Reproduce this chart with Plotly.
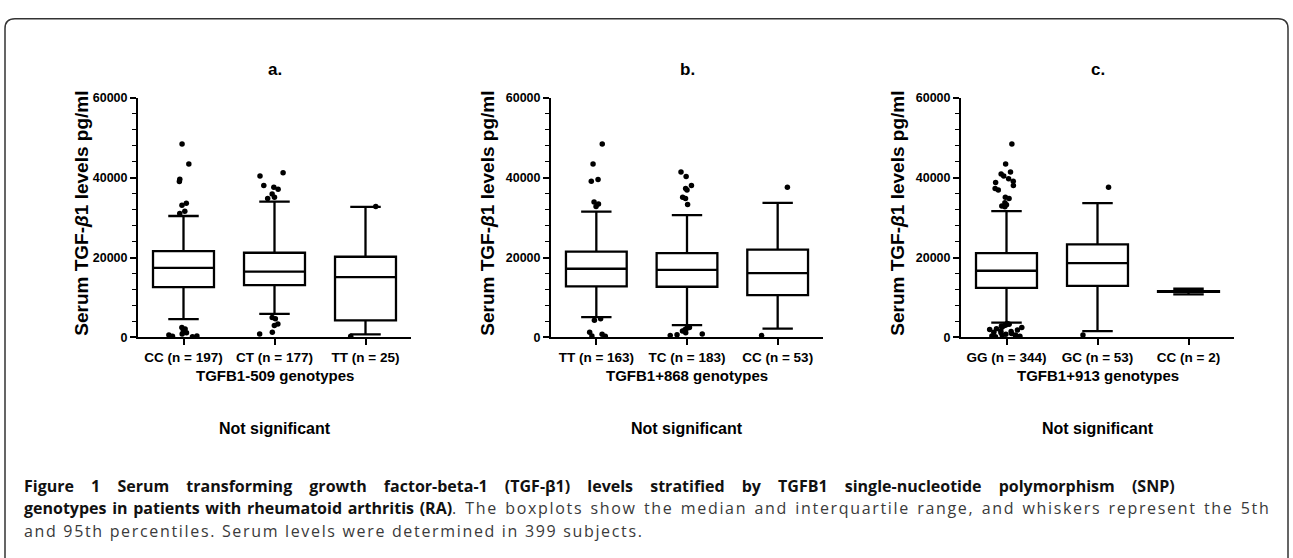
import plotly.graph_objects as go

W, H = 1293, 558

# ---------------- data ----------------
panel_titles = ["a.", "b.", "c."]
genotype_titles = ["TGFB1-509 genotypes", "TGFB1+868 genotypes", "TGFB1+913 genotypes"]
significance = ["Not significant", "Not significant", "Not significant"]

cats_a = ["CC (n = 197)", "CT (n = 177)", "TT (n = 25)"]
q1_a = [12600, 13100, 4300]
med_a = [17400, 16500, 15100]
q3_a = [21600, 21200, 20200]
lo_a = [4600, 5900, 800]
hi_a = [30400, 34000, 32700]
out_a_1 = [48400, 43400, 39600, 39000, 33600, 33100, 31600, 31000,
           2500, 2100, 1700, 1200, 900, 600, 400, 200, 300]
out_a_2 = [41200, 40400, 38000, 37600, 37100, 35900, 35100, 34800,
           5000, 4700, 3400, 3000, 1300, 900]
out_a_3 = [32800, 300]

cats_b = ["TT (n = 163)", "TC (n = 183)", "CC (n = 53)"]
q1_b = [12800, 12700, 10600]
med_b = [17200, 16900, 16100]
q3_b = [21500, 21100, 22000]
lo_b = [5100, 3100, 2200]
hi_b = [31500, 30600, 33700]
out_b_1 = [48400, 43400, 39500, 39100, 33900, 33400, 32800,
           4700, 4300, 1300, 800, 400, 300]
out_b_2 = [41400, 40300, 38000, 37300, 36900, 35100, 34800, 33300,
           2500, 2300, 2000, 1600, 1200, 900, 700, 500]
out_b_3 = [37600, 500]

cats_c = ["GG (n = 344)", "GC (n = 53)", "CC (n = 2)"]
q1_c = [12400, 12900, 11400]
med_c = [16700, 18600, 11500]
q3_c = [21100, 23300, 11600]
lo_c = [3700, 1600, 10800]
hi_c = [31600, 33600, 12200]
out_c_1 = [48400, 43400, 41400, 40900, 40400, 39700, 39100, 38800, 38000, 37300,
           36900, 35100, 34800, 33700, 33200, 32900, 32700,
           3500, 3300, 3200, 3000, 2900, 2600, 2500, 2200, 2000, 1900, 1700,
           1500, 1300, 1200, 1000, 800, 600, 500, 400, 300, 200, 100]
out_c_2 = [37600, 600]
out_c_3 = []

y_title = "Serum TGF-<i>β</i>1 levels pg/ml"

caption_1_bold = ("Figure 1 Serum transforming growth factor-beta-1 (TGF-β1) levels stratified "
                  "by TGFB1 single-nucleotide polymorphism (SNP)")
caption_2_bold = "genotypes in patients with rheumatoid arthritis (RA)"
caption_2_rest = (". The boxplots show the median and interquartile range, "
                  "and whiskers represent the 5th")
caption_3 = "and 95th percentiles. Serum levels were determined in 399 subjects."

panels = [
    (cats_a, q1_a, med_a, q3_a, lo_a, hi_a, [out_a_1, out_a_2, out_a_3]),
    (cats_b, q1_b, med_b, q3_b, lo_b, hi_b, [out_b_1, out_b_2, out_b_3]),
    (cats_c, q1_c, med_c, q3_c, lo_c, hi_c, [out_c_1, out_c_2, out_c_3]),
]

# ---------------- layout helpers ----------------
def px(x):
    return x / W

def py(y):
    return 1 - y / H

SANS = "Liberation Sans, Arial, sans-serif"

x_domains = [(138, 411), (551, 823), (961, 1234)]
y_top, y_bot = 93, 339
ytitle_x = [82, 488, 898]

fig = go.Figure()
layout = dict(
    width=W, height=H,
    margin=dict(l=0, r=0, t=0, b=0),
    paper_bgcolor="white", plot_bgcolor="white",
    showlegend=False,
    boxmode="overlay",
    annotations=[], shapes=[],
)

def note(x, y, text, font, **kw):
    d = dict(x=x, y=y, xref="paper", yref="paper", text=text, showarrow=False,
             xanchor="center", yanchor="middle", font=font)
    d.update(kw)
    return d

for i, (cats, q1, med, q3, lo, hi, outs) in enumerate(panels):
    xa = "x" if i == 0 else f"x{i+1}"
    ya = "y" if i == 0 else f"y{i+1}"
    fig.add_trace(go.Box(
        x=cats, q1=q1, median=med, q3=q3, lowerfence=lo, upperfence=hi,
        xaxis=xa, yaxis=ya, boxpoints=False, width=0.67, whiskerwidth=0.5,
        fillcolor="white", line=dict(color="black", width=2.3),
        hoverinfo="skip",
    ))
    ox, oy = [], []
    for c, vals in zip(cats, outs):
        ox += [c] * len(vals)
        oy += vals
    if oy:
        fig.add_trace(go.Box(
            x=ox, y=oy, xaxis=xa, yaxis=ya, boxpoints="all", jitter=1.0, pointpos=0,
            width=0.38, fillcolor="rgba(0,0,0,0)", line=dict(color="rgba(0,0,0,0)", width=0),
            marker=dict(color="black", size=5.5), hoverinfo="skip",
        ))
    d0, d1 = x_domains[i]
    axk = "xaxis" if i == 0 else f"xaxis{i+1}"
    ayk = "yaxis" if i == 0 else f"yaxis{i+1}"
    layout[axk] = dict(
        domain=[px(d0), px(d1)], anchor=ya, type="category",
        categoryorder="array", categoryarray=cats, range=[-0.5, 2.5],
        showline=True, linecolor="black", linewidth=2, showgrid=False, zeroline=False,
        ticks="outside", ticklen=6, tickwidth=2, tickcolor="black", tickangle=0,
        tickfont=dict(family=SANS, size=13.5, color="black", weight="bold"),
    )
    layout[ayk] = dict(
        domain=[py(y_bot), py(y_top)], anchor=xa, range=[0, 60000],
        dtick=20000, tickformat="d",
        showline=True, linecolor="black", linewidth=2, showgrid=False, zeroline=False,
        ticks="outside", ticklen=6, tickwidth=2, tickcolor="black",
        minor=dict(dtick=4000, ticks="outside", ticklen=4, tickwidth=1.5, tickcolor="black"),
        tickfont=dict(family=SANS, size=12.5, color="black", weight="bold"),
    )
    cx = px((d0 + d1) / 2)
    layout["annotations"] += [
        note(cx, py(64), panel_titles[i],
             dict(family=SANS, size=17, color="black", weight="bold")),
        note(cx, py(378), genotype_titles[i],
             dict(family=SANS, size=15, color="black", weight="bold")),
        note(cx, py(432), significance[i],
             dict(family=SANS, size=16, color="black", weight="bold")),
        note(px(ytitle_x[i]), py(212), y_title,
             dict(family=SANS, size=19, color="black", weight="bold"), textangle=-90),
    ]

CAP = "Open Sans, Noto Sans, sans-serif"
REG = "letter-spacing:1.67px;color:#3a3a3a"
cap_lines = [
    (f"<span style='word-spacing:13px'><b>{caption_1_bold}</b></span>", 491),
    (f"<span style='word-spacing:1.5px'><b>{caption_2_bold}</b>"
     f"<span style='{REG}'>{caption_2_rest}</span></span>", 514),
    (f"<span style='{REG}'>{caption_3}</span>", 537),
]
for txt, yy in cap_lines:
    layout["annotations"].append(note(px(22), py(yy), txt,
                                      dict(family=CAP, size=16, color="#111111"),
                                      xanchor="left", align="left"))

# rounded border (open at the bottom)
r = 10
x0, x1, yt, yb = 5, 1288, 12, 570
path = (f"M {px(x0)},{py(yb)} L {px(x0)},{py(yt + r)} "
        f"Q {px(x0)},{py(yt)} {px(x0 + r)},{py(yt)} "
        f"L {px(x1 - r)},{py(yt)} Q {px(x1)},{py(yt)} {px(x1)},{py(yt + r)} "
        f"L {px(x1)},{py(yb)}")
layout["shapes"].append(dict(type="path", xref="paper", yref="paper", path=path,
                             line=dict(color="#333333", width=1.5)))

fig.update_layout(**layout)
fig.write_html(
    "out.html",
    config=dict(displayModeBar=False, staticPlot=True),
    post_script=(
        "var h=document.documentElement,b=document.body;"
        "h.style.margin='0';h.style.padding='0';h.style.overflow='hidden';h.style.height='558px';"
        "b.style.margin='0';b.style.padding='0';b.style.overflow='hidden';b.style.height='558px';"
    ),
)
